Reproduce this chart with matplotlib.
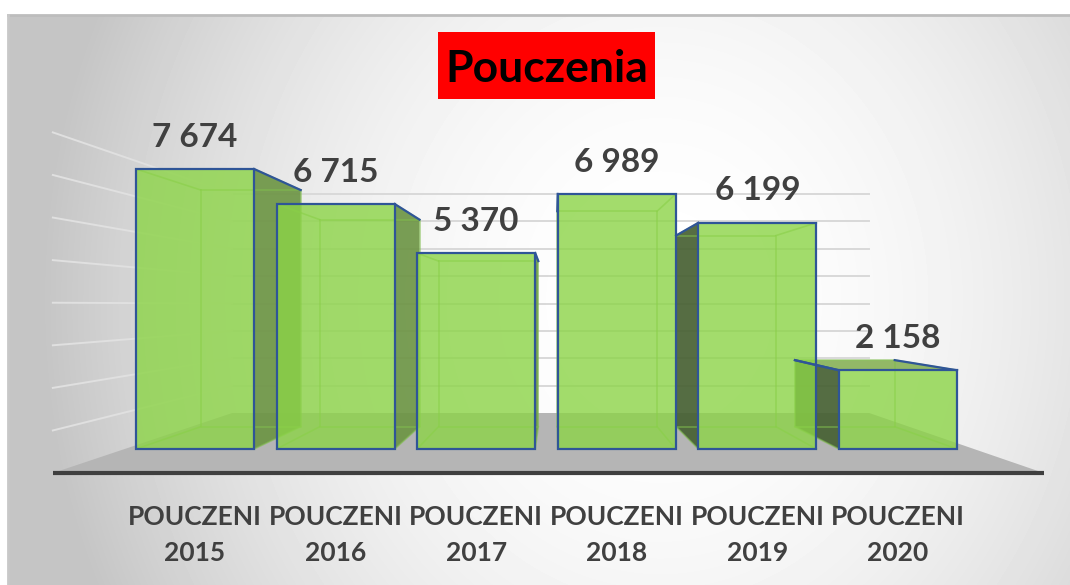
"""
Pouczenia 2015-2020: pseudo-3D bar chart (Excel style), saved to out.png
"""
import numpy as np
import matplotlib
matplotlib.use("Agg")
import matplotlib.pyplot as plt
from matplotlib.patches import Polygon, Rectangle

years = ["2015", "2016", "2017", "2018", "2019", "2020"]
category_labels = [f"POUCZENI\n{y}" for y in years]
values = [7674, 6715, 5370, 6989, 6199, 2158]
value_labels = ["7 674", "6 715", "5 370", "6 989", "6 199", "2 158"]
grid_values = [1000, 2000, 3000, 4000, 5000, 6000, 7000, 8000]
title = "Pouczenia"

FONT = ["Lato", "DejaVu Sans"]
TEXT_GRAY = "#404040"

# layout of the front plane in pixels (category centre, baseline, scale)
W, H = 1070, 585
PX_X0, PX_SLOT = 195.0, 140.6
PX_BASE, PX_PER_UNIT = 449.0, 0.03649

# perspective: vanishing point and depth scales (front plane = 1)
VX = (555 - PX_X0) / PX_SLOT
VY = (PX_BASE - 305) / PX_PER_UNIT
S_BAR_BACK = 0.845
S_WALL = 0.75
S_FLOOR_FRONT = 1.167
HALF_W = 0.42
X_LEFT, X_RIGHT = -0.5, 5.54


def proj(x, y, s):
    return (VX + s * (x - VX), VY + s * (y - VY))


fig = plt.figure(figsize=(W / 100, H / 100), dpi=100)
fig.patch.set_facecolor("white")

# background (pixel coordinates)
bg = fig.add_axes([0, 0, 1, 1])
bg.set_xlim(0, W)
bg.set_ylim(H, 0)
bg.axis("off")
yy, xx = np.mgrid[15:H, 8:W]
r = np.sqrt(((xx - 660) / 620.0) ** 2 + ((yy - 300) / 700.0) ** 2)
shade = 1 - 0.23 * np.clip(r, 0, 1) ** 2
bg.imshow(shade, cmap="gray", vmin=0, vmax=1, extent=(8, W, H, 15),
          interpolation="bilinear", aspect="auto", zorder=0)
bg.plot([8, W], [15, 15], color="#bdbdbd", lw=2, zorder=1)
bg.plot([8, 8], [15, H], color="#c8c8c8", lw=2, zorder=1)
bg.add_patch(Rectangle((438, 32), 217, 67, facecolor="#ff0000", edgecolor="none", zorder=2))
bg.text(547, 82, title, ha="center", va="baseline", fontsize=32,
        fontweight="bold", color="black", family=FONT, zorder=3)

# chart (data coordinates: category index, value)
ax = fig.add_axes([0, 0, 1, 1])
ax.patch.set_alpha(0)
ax.set_xlim(-PX_X0 / PX_SLOT, (W - PX_X0) / PX_SLOT)
ax.set_ylim((PX_BASE - H) / PX_PER_UNIT, PX_BASE / PX_PER_UNIT)
ax.axis("off")

# gridlines on back wall and left wall
for g in grid_values:
    bx0, by = proj(X_LEFT, g, S_WALL)
    bx1, _ = proj(X_RIGHT, g, S_WALL)
    fx, fy = proj(X_LEFT, g, S_FLOOR_FRONT)
    ax.plot([bx0, bx1], [by, by], color="#d9d9d9", lw=1.4, zorder=1)
    ax.plot([fx, bx0], [fy, by], color="#e0e0e0", lw=1.4, zorder=1)

# floor
floor = [proj(X_LEFT, 0, S_FLOOR_FRONT), proj(X_RIGHT, 0, S_FLOOR_FRONT),
         proj(X_RIGHT, 0, S_WALL), proj(X_LEFT, 0, S_WALL)]
ax.add_patch(Polygon(floor, closed=True, facecolor="#b5b5b5", edgecolor="none", zorder=2))
ax.plot([floor[0][0], floor[1][0]], [floor[0][1], floor[1][1]],
        color="#3f3f3f", lw=3, solid_capstyle="butt", zorder=3)

FRONT = (0.55, 0.83, 0.28, 0.8)
RIGHT_SIDE = (0.42, 0.58, 0.26, 0.9)
LEFT_SIDE = (0.28, 0.38, 0.20, 0.92)
TOP_FACE = (0.50, 0.68, 0.30, 0.85)
EDGE = "#2f5597"
HIDDEN = (0.50, 0.74, 0.30, 0.6)

for i, v in enumerate(values):
    xl, xr = i - HALF_W, i + HALF_W
    ftl, ftr, fbl, fbr = (xl, v), (xr, v), (xl, 0), (xr, 0)
    btl, btr = proj(xl, v, S_BAR_BACK), proj(xr, v, S_BAR_BACK)
    bbl, bbr = proj(xl, 0, S_BAR_BACK), proj(xr, 0, S_BAR_BACK)

    diagonals = []
    if btr[0] > xr + 1e-3:
        ax.add_patch(Polygon([fbr, ftr, btr, bbr], closed=True, facecolor=RIGHT_SIDE,
                             edgecolor="none", zorder=4))
        diagonals.append((ftr, btr))
    if btl[0] < xl - 1e-3:
        ax.add_patch(Polygon([fbl, ftl, btl, bbl], closed=True, facecolor=LEFT_SIDE,
                             edgecolor="none", zorder=4))
        diagonals.append((ftl, btl))
    if btl[1] > v:
        ax.add_patch(Polygon([ftl, ftr, btr, btl], closed=True, facecolor=TOP_FACE,
                             edgecolor="none", zorder=4))
        diagonals += [(ftl, btl), (ftr, btr)]

    # hidden (back) edges seen through the translucent front
    back = [btl, btr, bbr, bbl, btl]
    ax.plot([p[0] for p in back], [p[1] for p in back], color=HIDDEN, lw=1.2, zorder=5)
    for a, b in [(ftl, btl), (ftr, btr), (fbl, bbl), (fbr, bbr)]:
        ax.plot([a[0], b[0]], [a[1], b[1]], color=HIDDEN, lw=1.2, zorder=5)

    ax.add_patch(Rectangle((xl, 0), 2 * HALF_W, v, facecolor=FRONT, edgecolor=EDGE,
                           lw=1.6, zorder=6))
    for a, b in diagonals:
        ax.plot([a[0], b[0]], [a[1], b[1]], color=EDGE, lw=1.6, zorder=7)

    ax.annotate(value_labels[i], (i, v), xytext=(0, 23), textcoords="offset points",
                ha="center", va="center", fontsize=24, fontweight="bold",
                color=TEXT_GRAY, family=FONT, zorder=8)
    ax.annotate(category_labels[i], (i, 0), xytext=(0, -62), textcoords="offset points",
                ha="center", va="center", fontsize=19, fontweight="bold",
                linespacing=1.6, color=TEXT_GRAY, family=FONT, zorder=8)

fig.savefig("out.png", dpi=100)
